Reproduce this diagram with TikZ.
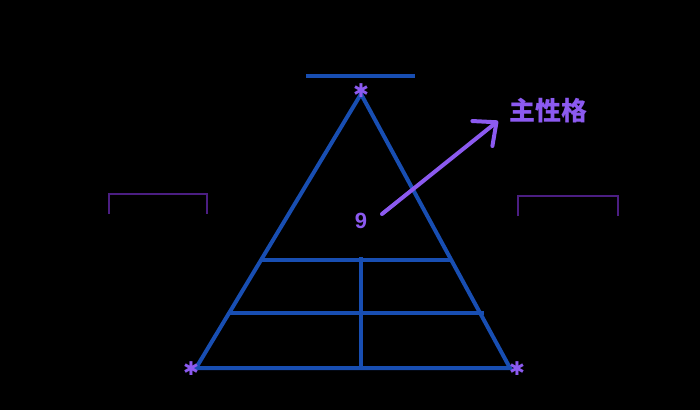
\documentclass[tikz,border=0pt]{standalone}
\usepackage{fontspec}
\setmainfont{Liberation Sans}
\newfontfamily\cjk{Noto Sans CJK SC}
\newfontfamily\dejavu{DejaVu Sans}
\usetikzlibrary{arrows.meta}
\definecolor{triblue}{RGB}{24,78,178}
\definecolor{violet}{RGB}{140,90,240}
\definecolor{darkviolet}{RGB}{75,30,130}
\tikzset{
  tri/.style={draw=triblue,line width=4pt},
  brk/.style={draw=darkviolet,line width=1.8pt},
  astx/.style={text=violet,font=\dejavu\bfseries\fontsize{19}{19}\selectfont,inner sep=0pt},
}
\begin{document}
\begin{tikzpicture}[x=1pt,y=-1pt]
\fill[black] (0,0) rectangle (700,410);
\useasboundingbox (0,0) rectangle (700,410);
\coordinate (A) at (361,94);
\coordinate (B) at (196,368);
\coordinate (C) at (510,368);
\coordinate (L1) at (262,260);
\coordinate (R1) at (452,260);
\coordinate (L2) at (230,313);
\coordinate (R2) at (484,313);
\coordinate (M1) at (361,257);
\coordinate (M2) at (361,368);
\coordinate (T1) at (306,76);
\coordinate (T2) at (415,76);
% triangle
\draw[tri,line join=miter] (A) -- (B) -- (C) -- cycle;
\draw[tri] (L1) -- (R1);
\draw[tri] (L2) -- (R2);
\draw[tri] (M1) -- (M2);
\draw[tri] (T1) -- (T2);
% brackets
\coordinate (b1) at (109,214);
\coordinate (b2) at (109,194);
\coordinate (b3) at (207,194);
\coordinate (b4) at (207,214);
\draw[brk] (b1) -- (b2) -- (b3) -- (b4);
\coordinate (c1) at (518,216);
\coordinate (c2) at (518,196);
\coordinate (c3) at (618,196);
\coordinate (c4) at (618,216);
\draw[brk] (c1) -- (c2) -- (c3) -- (c4);
% asterisks
\node[astx] (sa) at (361,91) {✱};
\node[astx] (sb) at (191,369) {✱};
\node[astx] (sc) at (517,369) {✱};
% label and arrow
\node[text=violet,font=\fontsize{22}{22}\selectfont\bfseries,inner sep=1pt] (nine) at (361,221) {9};
\node[text=violet,font=\cjk\bfseries\fontsize{26}{26}\selectfont,inner sep=0pt] (lab) at (548,111) {主性格};
\coordinate (a0) at (382,214);
\coordinate (a1) at (498,121);
\draw[violet,line width=4pt,line cap=round,-{Straight Barb[length=18pt,width=32pt,line width=4pt,round]}] (a0) -- (a1);
\end{tikzpicture}
\end{document}
